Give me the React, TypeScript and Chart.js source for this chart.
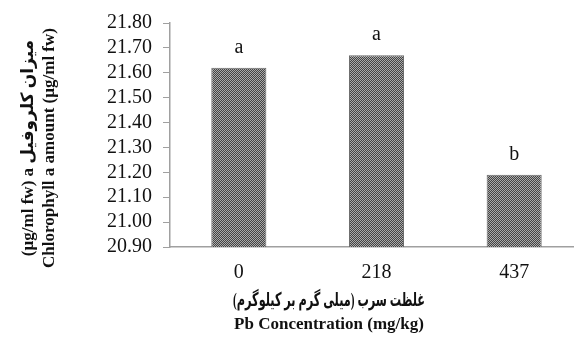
import React, { useEffect, useRef } from "react";
import { Chart, registerables } from "chart.js";

Chart.register(...registerables);

const categories = ["0", "218", "437"];
const chlorophyll = [21.62, 21.67, 21.19];
const groupLetters = ["a", "a", "b"];
const yMin = 20.9;
const yMax = 21.8;
const yStep = 0.1;

const yTitleFa = "میزان کلروفیل a\u200F (µg/ml fw)";
const yTitleEn = "Chlorophyll a amount (µg/ml fw)";
const xTitleFa = "غلظت سرب (میلی گرم بر کیلوگرم)";
const xTitleEn = "Pb Concentration (mg/kg)";

function makePattern(): CanvasPattern | string {
  const c = document.createElement("canvas");
  c.width = 2;
  c.height = 2;
  const g = c.getContext("2d");
  if (!g) return "#6e6e6e";
  g.fillStyle = "#444444";
  g.fillRect(0, 0, 2, 2);
  g.fillStyle = "#aaaaaa";
  g.fillRect(0, 0, 1, 1);
  g.fillRect(1, 1, 1, 1);
  const p = g.createPattern(c, "repeat");
  return p || "#6e6e6e";
}

function fitText(ctx: CanvasRenderingContext2D, text: string, x: number, y: number, target: number) {
  const w = ctx.measureText(text).width;
  const s = Math.min(1, target / w);
  ctx.save();
  ctx.translate(x, y);
  ctx.scale(s, 1);
  ctx.fillText(text, 0, 0);
  ctx.restore();
}

const annotatePlugin = {
  id: "annotate",
  afterDraw(chart: any) {
    const ctx = chart.ctx as CanvasRenderingContext2D;
    const meta = chart.getDatasetMeta(0);
    ctx.save();
    ctx.fillStyle = "#111";
    ctx.font = "20px 'Liberation Serif', serif";
    ctx.textAlign = "center";
    ctx.textBaseline = "alphabetic";
    meta.data.forEach((bar: any, i: number) => {
      ctx.fillText(groupLetters[i], bar.x, bar.y - 15);
    });

    // x titles
    const xc = 329;
    ctx.font = "bold 19px 'Liberation Serif', 'DejaVu Sans', serif";
    (ctx as any).direction = "rtl";
    fitText(ctx, xTitleFa, xc, 306, 192);
    (ctx as any).direction = "ltr";
    ctx.font = "bold 17px 'Liberation Serif', serif";
    ctx.fillText(xTitleEn, xc, 329);

    // y titles (rotated)
    const yc = 148;
    ctx.save();
    ctx.translate(33, yc);
    ctx.rotate(-Math.PI / 2);
    (ctx as any).direction = "rtl";
    ctx.font = "bold 17px 'Liberation Serif', 'DejaVu Sans', serif";
    fitText(ctx, yTitleFa, 0, 0, 232);
    ctx.restore();
    ctx.save();
    ctx.translate(54, yc);
    ctx.rotate(-Math.PI / 2);
    (ctx as any).direction = "ltr";
    ctx.font = "bold 17px 'Liberation Serif', serif";
    ctx.fillText(yTitleEn, 0, 0);
    ctx.restore();
    ctx.restore();
  },
};

export default function App() {
  const ref = useRef<HTMLCanvasElement>(null);
  useEffect(() => {
    if (!ref.current) return;
    const axisColor = "#a0a0a0";
    const chart = new Chart(ref.current, {
      type: "bar",
      data: {
        labels: categories,
        datasets: [
          {
            data: chlorophyll,
            backgroundColor: makePattern() as any,
            borderColor: "#6a6a6a",
            borderWidth: 1,
            barPercentage: 0.4,
            categoryPercentage: 1,
          },
        ],
      },
      options: {
        responsive: false,
        animation: false,
        layout: { padding: { top: 22, right: 0, left: 0, bottom: 0 } },
        plugins: { legend: { display: false }, tooltip: { enabled: false } },
        scales: {
          x: {
            grid: { drawOnChartArea: false, drawTicks: false, color: axisColor },
            border: { color: axisColor, width: 1.5 },
            ticks: {
              color: "#111",
              font: { family: "'Liberation Serif', serif", size: 20 },
              padding: 14,
            },
            afterFit(scale: any) {
              scale.height = 93;
            },
          },
          y: {
            min: yMin,
            max: yMax,
            grid: { drawOnChartArea: false, tickLength: 7, color: axisColor },
            border: { color: axisColor, width: 1.5 },
            ticks: {
              stepSize: yStep,
              autoSkip: false,
              color: "#111",
              font: { family: "'Liberation Serif', serif", size: 20 },
              padding: 11,
              callback: (v: any) => Number(v).toFixed(2),
            },
            afterFit(scale: any) {
              scale.width = 170;
            },
          },
        },
      },
      plugins: [annotatePlugin],
    });
    return () => chart.destroy();
  }, []);
  return (
    <div style={{ position: "fixed", left: 0, top: 0, width: 583, height: 340, background: "#fff" }}>
      <canvas ref={ref} width={583} height={340} style={{ display: "block" }} />
    </div>
  );
}
